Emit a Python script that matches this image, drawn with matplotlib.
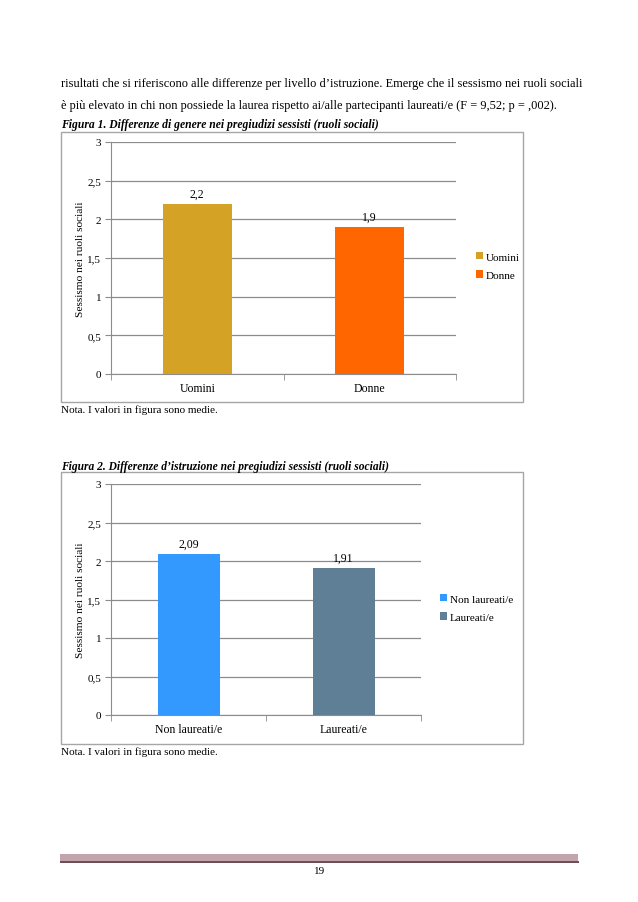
import matplotlib.pyplot as plt
from matplotlib.patches import Rectangle

plt.rcParams['font.family'] = ['Liberation Serif', 'DejaVu Serif']

# Figura 1 data
genere_cat = ['Uomini', 'Donne']
genere_val = [2.2, 1.9]
genere_lab = ['2,2', '1,9']
genere_col = ['#D4A326', '#FF6600']

# Figura 2 data
istr_cat = ['Non laureati/e', 'Laureati/e']
istr_val = [2.09, 1.91]
istr_lab = ['2,09', '1,91']
istr_col = ['#3399FF', '#5F7F96']

y_ticks = [0, 0.5, 1, 1.5, 2, 2.5, 3]
y_tick_labels = ['0', '0,5', '1', '1,5', '2', '2,5', '3']

W, H = 638, 903
fig = plt.figure(figsize=(W / 100, H / 100), dpi=100)


def fx(px):
    return px / W


def fy(py):
    return 1 - py / H


def draw_chart(rect, cats, vals, labs, cols, box, leg_xy):
    # outer grey frame of the chart object
    x0, y0, x1, y1 = box
    fig.patches.append(Rectangle((fx(x0), fy(y1)), fx(x1 - x0), (y1 - y0) / H,
                                 transform=fig.transFigure, fill=False,
                                 edgecolor='#a6a6a6', linewidth=1.0))
    ax = fig.add_axes(rect)
    pos = range(len(cats))
    bars = ax.bar(pos, vals, width=0.4, color=cols, zorder=3, label=cats)
    for b, t in zip(bars, labs):
        ax.text(b.get_x() + b.get_width() / 2, b.get_height() + 0.05, t,
                ha='center', va='bottom', fontsize=8.5)
    ax.set_ylim(0, 3)
    ax.set_xlim(-0.5, len(cats) - 0.5)
    ax.set_yticks(y_ticks)
    ax.set_yticklabels(y_tick_labels, fontsize=8)
    ax.yaxis.grid(True, color='#8c8c8c', linewidth=0.9, zorder=0)
    ax.set_xticks(list(pos))
    ax.set_xticklabels(cats, fontsize=8.5)
    ax.set_xticks([-0.5, 0.5, 1.5], minor=True)
    ax.tick_params(axis='x', which='major', length=0, pad=6)
    ax.tick_params(axis='x', which='minor', length=4, color='#8c8c8c')
    ax.tick_params(axis='y', length=4, color='#8c8c8c', pad=3)
    for s in ['top', 'right']:
        ax.spines[s].set_visible(False)
    ax.spines['left'].set_color('#8c8c8c')
    ax.spines['bottom'].set_color('#8c8c8c')
    ax.set_ylabel('Sessismo nei ruoli sociali', fontsize=8.2, labelpad=1.5)
    fig.legend(handles=bars, labels=cats, loc='center left',
               bbox_to_anchor=(fx(leg_xy[0]), fy(leg_xy[1])),
               frameon=False, fontsize=8, handlelength=0.6,
               handleheight=0.6, handletextpad=0.3, labelspacing=0.8)
    return ax


draw_chart([fx(111), fy(375), fx(456 - 111), (375 - 143) / H],
           genere_cat, genere_val, genere_lab, genere_col,
           (61, 133, 523, 403), (466, 267))

draw_chart([fx(111), fy(716), fx(421 - 111), (716 - 485) / H],
           istr_cat, istr_val, istr_lab, istr_col,
           (61, 473, 523, 745), (430, 609))

# page text
body = 8.9
fig.text(fx(61), fy(84), "risultati che si riferiscono alle differenze per livello d\u2019istruzione. "
         "Emerge che il sessismo nei ruoli sociali", fontsize=body, va='center')
fig.text(fx(61), fy(106), "\u00e8 pi\u00f9 elevato in chi non possiede la laurea rispetto ai/alle "
         "partecipanti laureati/e (F = 9,52; p = ,002).", fontsize=body, va='center')
fig.text(fx(61), fy(125), "Figura 1. Differenze di genere nei pregiudizi sessisti (ruoli sociali)",
         fontsize=8.4, fontweight='bold', style='italic', va='center')
fig.text(fx(61), fy(410), "Nota. I valori in figura sono medie.", fontsize=8.0, va='center')
fig.text(fx(61), fy(467), "Figura 2. Differenze d\u2019istruzione nei pregiudizi sessisti (ruoli sociali)",
         fontsize=8.3, fontweight='bold', style='italic', va='center')
fig.text(fx(61), fy(752), "Nota. I valori in figura sono medie.", fontsize=8.0, va='center')

# footer band and page number
fig.patches.append(Rectangle((fx(60), fy(862)), fx(518), 7 / H, transform=fig.transFigure,
                             facecolor='#c4a4ac', edgecolor='none'))
fig.patches.append(Rectangle((fx(60), fy(863.5)), fx(519), 1.5 / H, transform=fig.transFigure,
                             facecolor='#6e4f58', edgecolor='none'))
fig.text(fx(320), fy(872), "19", fontsize=8, ha='center', va='center')

fig.savefig('out.png', dpi=100)
